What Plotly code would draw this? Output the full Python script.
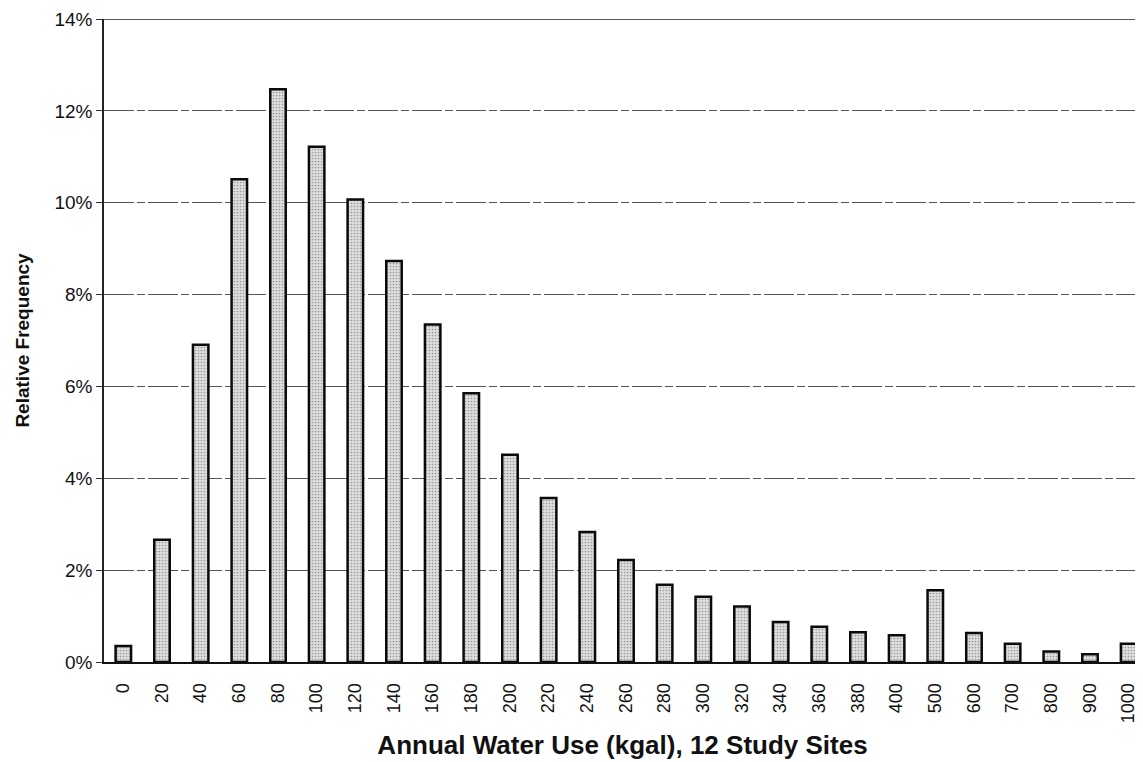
import plotly.graph_objects as go

categories = ["0", "20", "40", "60", "80", "100", "120", "140", "160", "180", "200", "220",
              "240", "260", "280", "300", "320", "340", "360", "380", "400", "500", "600",
              "700", "800", "900", "1000"]
rel_freq = [0.35, 2.66, 6.91, 10.51, 12.47, 11.22, 10.07, 8.73, 7.35, 5.85, 4.51, 3.57,
            2.83, 2.22, 1.68, 1.42, 1.21, 0.87, 0.77, 0.65, 0.58, 1.56, 0.63,
            0.40, 0.23, 0.17, 0.40]
y_ticks = [0, 2, 4, 6, 8, 10, 12, 14]
y_tick_labels = ["0%", "2%", "4%", "6%", "8%", "10%", "12%", "14%"]

fig = go.Figure()
fig.add_trace(go.Bar(
    x=categories, y=rel_freq,
    marker=dict(color="#d4d4d4",
                line=dict(color="#0a0a0a", width=2.5),
                pattern=dict(shape=".", fgcolor="#555555", bgcolor="#dedede", size=3, solidity=0.25)),
    width=0.40,
))
fig.update_layout(
    width=1135, height=754,
    margin=dict(l=96, r=2, t=11, b=100),
    paper_bgcolor="white", plot_bgcolor="white",
    font=dict(family="Liberation Sans, Arial, sans-serif", color="#111111", size=18),
    showlegend=False,
    xaxis=dict(
        type="category", range=[-0.5, 26.32], tickangle=-90, tickfont=dict(size=18),
        showline=True, linecolor="#111111", linewidth=2,
        ticks="outside", ticklen=12, tickcolor="rgba(0,0,0,0)", showgrid=False,
        title=dict(text="<b>Annual Water Use (kgal), 12 Study Sites</b>", font=dict(size=26), standoff=14),
    ),
    yaxis=dict(
        range=[0, 14], tickvals=y_ticks, ticktext=y_tick_labels,
        tickfont=dict(size=19),
        showline=True, linecolor="#222222", linewidth=1.5,
        ticks="outside", ticklen=6, tickcolor="#333333",
        showgrid=True, gridcolor="#555555", gridwidth=1, griddash="30px,3px,8px,3px",
        zeroline=False,
        title=dict(text="<b>Relative Frequency</b>", font=dict(size=19), standoff=20),
    ),
)
fig.add_shape(type="line", xref="paper", yref="y", x0=0, x1=1, y0=14, y1=14,
              line=dict(color="#222222", width=1.5))
fig.write_html("out.html")
